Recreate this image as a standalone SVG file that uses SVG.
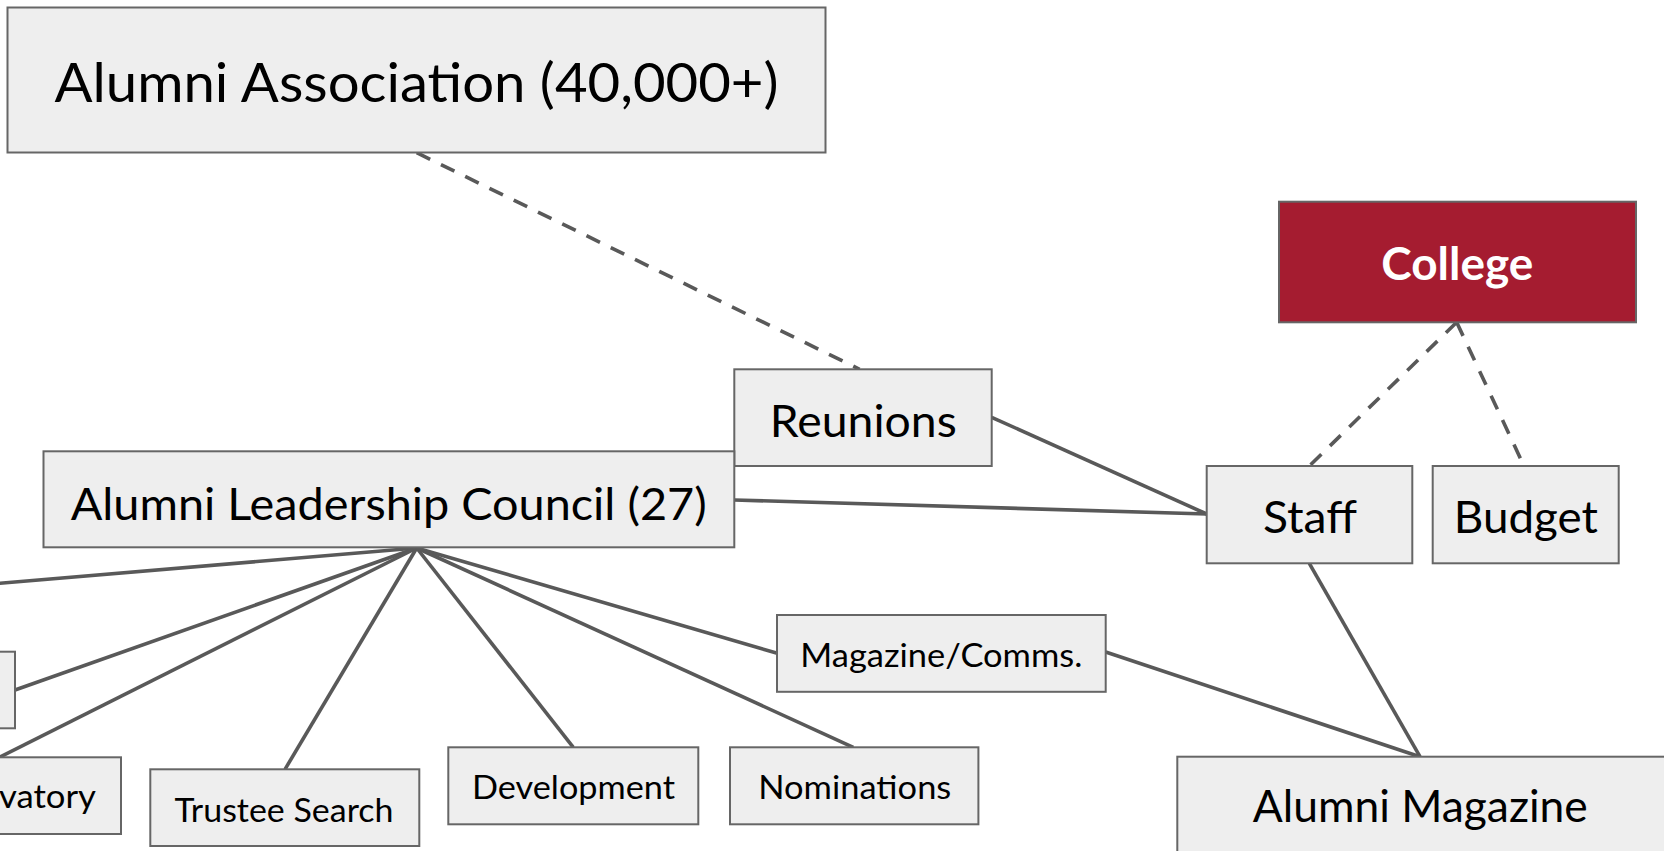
<svg xmlns="http://www.w3.org/2000/svg" width="1664" height="851" viewBox="0 0 1664 851">
<style>
.box{fill:#eeeeee;stroke:#666666;stroke-width:2}
.college{fill:#a51c30;stroke:#666666;stroke-width:2}
.t{font-family:Lato,"Open Sans",sans-serif;fill:#000000;text-anchor:middle}
.xl{font-size:55px}
.md{font-size:45px}
.sm{font-size:33px}
.w{fill:#ffffff;font-weight:bold}
.ln{stroke:#595959;stroke-width:3.6;fill:none}
.dash{stroke-dasharray:15 12}
</style>
<rect width="1664" height="851" fill="#ffffff"/>
<g id="connectors">
<line class="ln dash" x1="416.7" y1="152.7" x2="859.6" y2="369.3"/>
<line class="ln dash" x1="1456.7" y1="322.3" x2="1309.3" y2="466"/>
<line class="ln dash" x1="1456.7" y1="322.3" x2="1524" y2="466"/>
<line class="ln" x1="991.7" y1="417.3" x2="1206.7" y2="514"/>
<line class="ln" x1="734.3" y1="500" x2="1206.7" y2="514"/>
<line class="ln" x1="1309.3" y1="563.3" x2="1420" y2="756.7"/>
<line class="ln" x1="1105.7" y1="652" x2="1420" y2="756.7"/>
<line class="ln" x1="416.7" y1="548" x2="-5" y2="583.7"/>
<line class="ln" x1="416.7" y1="548" x2="15" y2="690"/>
<line class="ln" x1="416.7" y1="548" x2="-2" y2="758"/>
<line class="ln" x1="416.7" y1="548" x2="285" y2="769.3"/>
<line class="ln" x1="416.7" y1="548" x2="573.3" y2="747.3"/>
<line class="ln" x1="416.7" y1="548" x2="853.3" y2="747.3"/>
<line class="ln" x1="416.7" y1="548" x2="777.3" y2="653.3"/>
</g>
<g id="alumni-association">
<rect class="box" x="7.5" y="7.5" width="818" height="145"/>
<text class="t xl" x="416.5" y="101.7" textLength="724" lengthAdjust="spacingAndGlyphs">Alumni Association (40,000+)</text>
</g>
<g id="college">
<rect class="college" x="1279" y="201.7" width="357" height="120.6"/>
<text class="t md w" x="1457.3" y="280" textLength="152" lengthAdjust="spacingAndGlyphs">College</text>
</g>
<g id="reunions">
<rect class="box" x="734.3" y="369.3" width="257.4" height="96.7"/>
<text class="t md" x="863.3" y="436.7" textLength="187" lengthAdjust="spacingAndGlyphs">Reunions</text>
</g>
<g id="alumni-leadership-council">
<rect class="box" x="43.5" y="451.3" width="690.8" height="96"/>
<text class="t md" x="388.7" y="519.5" textLength="636" lengthAdjust="spacingAndGlyphs">Alumni Leadership Council (27)</text>
</g>
<g id="staff">
<rect class="box" x="1206.7" y="466" width="205.6" height="97.3"/>
<text class="t md" x="1310" y="533.3" textLength="94" lengthAdjust="spacingAndGlyphs">Staff</text>
</g>
<g id="budget">
<rect class="box" x="1432.7" y="466" width="186" height="97.3"/>
<text class="t md" x="1525.8" y="533.3" textLength="144" lengthAdjust="spacingAndGlyphs">Budget</text>
</g>
<g id="magazine-comms">
<rect class="box" x="777" y="615" width="328.7" height="76.8"/>
<text class="t sm" x="941.3" y="666.7" textLength="282" lengthAdjust="spacingAndGlyphs">Magazine/Comms.</text>
</g>
<g id="left-partial">
<rect class="box" x="-20" y="651.7" width="35" height="76.6"/>
</g>
<g id="vatory">
<rect class="box" x="-150" y="757.3" width="271" height="76.7"/>
<text class="t sm" style="text-anchor:end" x="96" y="808.3" textLength="97" lengthAdjust="spacingAndGlyphs">vatory</text>
</g>
<g id="trustee-search">
<rect class="box" x="150.3" y="769.3" width="269" height="76.7"/>
<text class="t sm" x="284" y="821.7" textLength="219" lengthAdjust="spacingAndGlyphs">Trustee Search</text>
</g>
<g id="development">
<rect class="box" x="448.3" y="747.3" width="250" height="77"/>
<text class="t sm" x="573.5" y="799.3" textLength="203" lengthAdjust="spacingAndGlyphs">Development</text>
</g>
<g id="nominations">
<rect class="box" x="730" y="747.3" width="248.4" height="77"/>
<text class="t sm" x="854.8" y="799.3" textLength="193" lengthAdjust="spacingAndGlyphs">Nominations</text>
</g>
<g id="alumni-magazine">
<rect class="box" x="1177.3" y="756.7" width="520" height="120"/>
<text class="t md" x="1420.3" y="821.7" textLength="335" lengthAdjust="spacingAndGlyphs">Alumni Magazine</text>
</g>
</svg>
